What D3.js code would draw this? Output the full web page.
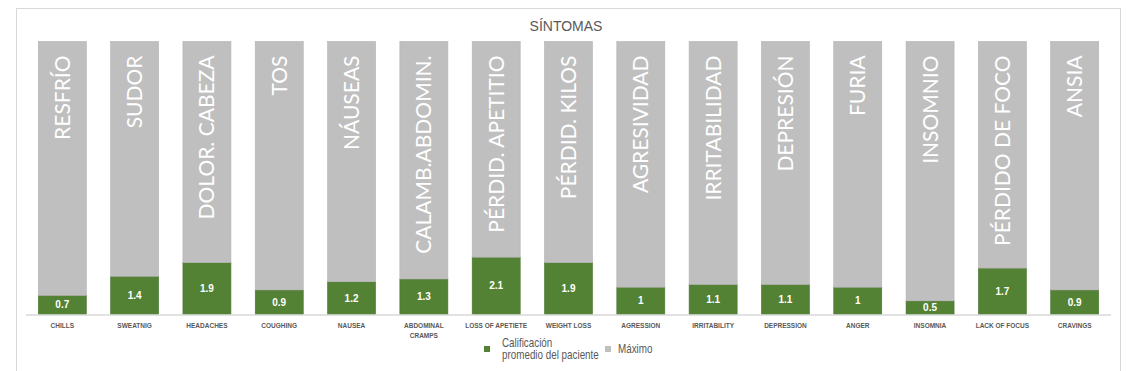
<!DOCTYPE html>
<html>
<head>
<meta charset="utf-8">
<script src="https://cdn.jsdelivr.net/npm/d3@7"></script>
<style>
  body { margin: 0; background: #fff; }
  svg { display: block; }
</style>
</head>
<body>
<svg id="chart" width="1138" height="371"></svg>
<script>
// chart values
const categories = ['CHILLS', 'SWEATNIG', 'HEADACHES', 'COUGHING', 'NAUSEA', 'ABDOMINAL\nCRAMPS',
  'LOSS OF APETIETE', 'WEIGHT LOSS', 'AGRESSION', 'IRRITABILITY', 'DEPRESSION', 'ANGER',
  'INSOMNIA', 'LACK OF FOCUS', 'CRAVINGS'];
const spanishNames = ['RESFRÍO', 'SUDOR', 'DOLOR. CABEZA', 'TOS', 'NÁUSEAS', 'CALAMB.ABDOMIN.',
  'PÉRDID. APETITIO', 'PÉRDID. KILOS', 'AGRESIVIDAD', 'IRRITABILIDAD', 'DEPRESIÓN', 'FURIA',
  'INSOMNIO', 'PÉRDIDO DE FOCO', 'ANSIA'];
const patientScore = [0.7, 1.4, 1.9, 0.9, 1.2, 1.3, 2.1, 1.9, 1, 1.1, 1.1, 1, 0.5, 1.7, 0.9];
const maxScore = 10;
const seriesNames = ['Calificación\npromedio del paciente', 'Máximo'];
const seriesColors = ['#548235', '#bfbfbf'];

const svg = d3.select('#chart');

// outer chart frame
svg.append('rect')
  .attr('x', 16.5).attr('y', 8.5)
  .attr('width', 1104).attr('height', 400)
  .attr('fill', '#fff')
  .attr('stroke', '#d9d9d9');

svg.append('text')
  .attr('x', 566).attr('y', 31)
  .attr('text-anchor', 'middle')
  .style('font-family', 'Liberation Sans, Arial, sans-serif')
  .style('font-size', '14px')
  .attr('fill', '#595959')
  .text('SÍNTOMAS');

const x = d3.scaleBand()
  .domain(categories)
  .range([26, 1111])
  .paddingInner(0.336)
  .paddingOuter(0.17);

const y = d3.scaleLinear()
  .domain([0, maxScore])
  .range([314.5, 41.5]);

// stack: score + remainder up to max
const rows = categories.map((c, i) => ({ cat: c, score: patientScore[i], rest: maxScore - patientScore[i] }));
const stacked = d3.stack().keys(['score', 'rest'])(rows);

const layers = svg.selectAll('g.layer')
  .data(stacked)
  .enter().append('g')
  .attr('class', 'layer')
  .attr('fill', (d, i) => seriesColors[i])
  .attr('stroke', (d, i) => i === 0 ? '#4a7530' : '#b3b3b3')
  .attr('stroke-width', 0.6);

layers.selectAll('rect')
  .data(d => d)
  .enter().append('rect')
  .attr('x', d => x(d.data.cat))
  .attr('width', x.bandwidth())
  .attr('y', d => y(d[1]))
  .attr('height', d => y(d[0]) - y(d[1]));

// axis line
svg.append('line')
  .attr('x1', x.range()[0]).attr('x2', x.range()[1])
  .attr('y1', y(0) + 0.5).attr('y2', y(0) + 0.5)
  .attr('stroke', '#d9d9d9')
  .attr('stroke-width', 1.5);

// value labels inside green bars
svg.selectAll('text.val')
  .data(rows)
  .enter().append('text')
  .attr('class', 'val')
  .attr('x', d => x(d.cat) + x.bandwidth() / 2)
  .attr('y', d => (y(0) + y(d.score)) / 2)
  .attr('dy', '0.35em')
  .attr('text-anchor', 'middle')
  .style('font-family', 'Liberation Sans, Arial, sans-serif')
  .style('font-size', '10px')
  .style('font-weight', 'bold')
  .attr('fill', '#fff')
  .text(d => d.score);

// spanish names written upwards in grey bars
svg.selectAll('text.name')
  .data(rows)
  .enter().append('text')
  .attr('class', 'name')
  .attr('transform', d => `translate(${x(d.cat) + x.bandwidth() / 2},${y(maxScore) + 14}) rotate(-90)`)
  .attr('text-anchor', 'end')
  .attr('dy', '0.36em')
  .style('font-family', 'Lato, sans-serif')
  .style('font-weight', 400)
  .style('font-size', '21px')
  .attr('fill', '#fff')
  .text((d, i) => spanishNames[i]);

// category labels under axis
const catLabels = svg.selectAll('text.cat')
  .data(categories)
  .enter().append('text')
  .attr('class', 'cat')
  .attr('x', d => x(d) + x.bandwidth() / 2)
  .attr('y', 327.5)
  .attr('text-anchor', 'middle')
  .style('font-family', 'Liberation Sans, Arial, sans-serif')
  .style('font-size', '6.5px')
  .style('font-weight', 'bold')
  .attr('fill', '#595959');

catLabels.selectAll('tspan')
  .data(d => d.split('\n'))
  .enter().append('tspan')
  .attr('x', function() { return this.parentNode.getAttribute('x'); })
  .attr('dy', (d, i) => i === 0 ? 0 : 10)
  .text(d => d);

// legend
const legendX = [484, 605];
const legend = svg.selectAll('g.legend')
  .data(seriesNames)
  .enter().append('g')
  .attr('class', 'legend')
  .attr('transform', (d, i) => `translate(${legendX[i]},349)`);

legend.append('rect')
  .attr('x', 0).attr('y', -3)
  .attr('width', 6).attr('height', 6)
  .attr('fill', (d, i) => seriesColors[i]);

// narrow look: Liberation Sans squeezed horizontally
legend.append('text')
  .attr('transform', (d, i) => `translate(${i === 0 ? 18 : 13},0) scale(0.82,1)`)
  .style('font-family', 'Liberation Sans, Arial, sans-serif')
  .style('font-size', '12px')
  .attr('fill', '#595959')
  .each(function(d) {
    const lines = d.split('\n');
    const t = d3.select(this);
    lines.forEach((ln, k) => {
      t.append('tspan')
        .attr('x', 0)
        .attr('y', lines.length === 1 ? 4 : (k === 0 ? -2.5 : 9.5))
        .text(ln);
    });
  });
</script>
</body>
</html>
